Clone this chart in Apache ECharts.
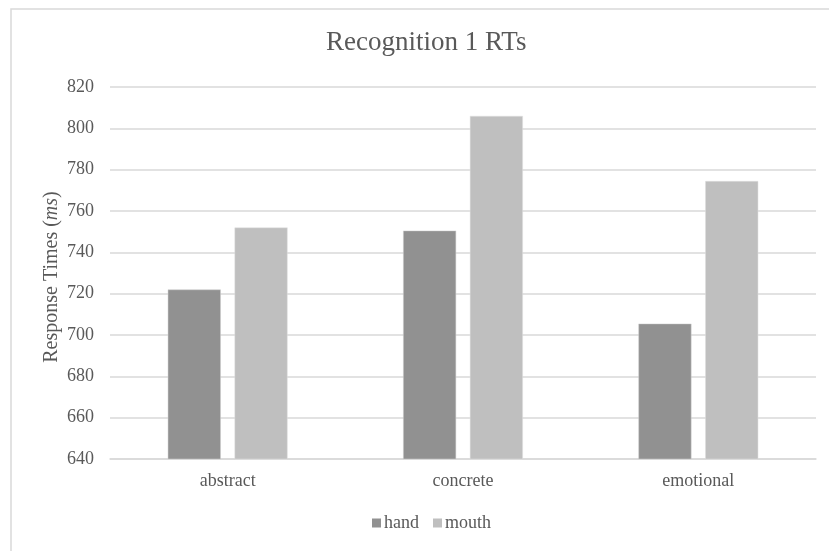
<!DOCTYPE html>
<html>
<head>
<meta charset="utf-8">
<script src="https://cdn.jsdelivr.net/npm/echarts@6/dist/echarts.min.js"></script>
<style>html,body{margin:0;padding:0;background:#fff}#c{width:829px;height:551px}</style>
</head>
<body>
<div id="c"></div>
<script>
const categories = ['abstract', 'concrete', 'emotional'];
const handValues = [722, 750.5, 705.5];
const mouthValues = [752, 806, 774.5];
const seriesNames = ['hand', 'mouth'];
const titleText = 'Recognition 1 RTs';

const serif = '"Liberation Serif", "Times New Roman", serif';
const txt = '#595959';
const chart = echarts.init(document.getElementById('c'));
chart.setOption({
  animation: false,
  backgroundColor: '#ffffff',
  graphic: [
    { type: 'rect', shape: { x: 11, y: 9, width: 840, height: 560 }, style: { fill: 'none', stroke: '#d9d9d9', lineWidth: 1.5 }, z: -1 },
    { type: 'text', left: 326, top: 29, style: { text: titleText, font: '27px ' + serif, fill: txt } }
  ],
  grid: { left: 110, right: 13, top: 87, bottom: 92 },
  legend: {
    data: seriesNames,
    left: 367, top: 509,
    itemWidth: 9, itemHeight: 9, itemGap: 14,
    icon: 'rect',
    itemStyle: { borderWidth: 0 },
    textStyle: { fontFamily: serif, fontSize: 18, color: txt, padding: [0, 0, 0, -2] }
  },
  xAxis: {
    type: 'category',
    data: categories,
    axisLine: { lineStyle: { color: '#d9d9d9', width: 1.5 } },
    axisTick: { show: false },
    axisLabel: { fontFamily: serif, fontSize: 18, color: txt, margin: 13 }
  },
  yAxis: {
    type: 'value',
    min: 640, max: 820, interval: 20,
    name: '{a|Response Times (}{i|ms}{a|)}',
    nameLocation: 'middle',
    nameGap: 48,
    nameMoveOverlap: false,
    nameTextStyle: {
      padding: [0, 8, 0, 0],
      rich: {
        a: { fontFamily: serif, fontSize: 20, color: txt },
        i: { fontFamily: serif, fontSize: 20, color: txt, fontStyle: 'italic' }
      }
    },
    axisLine: { show: false },
    axisTick: { show: false },
    axisLabel: { fontFamily: serif, fontSize: 18, color: txt, margin: 16 },
    splitLine: { lineStyle: { color: '#d9d9d9', width: 1.5 } }
  },
  series: [
    { name: seriesNames[0], type: 'bar', data: handValues, barWidth: 53, barGap: '26%',
      itemStyle: { color: '#919191', borderColor: '#d0d0d0', borderWidth: 0.5 } },
    { name: seriesNames[1], type: 'bar', data: mouthValues, barWidth: 53,
      itemStyle: { color: '#bfbfbf', borderColor: '#e0e0e0', borderWidth: 0.5 } }
  ]
});
</script>
</body>
</html>
